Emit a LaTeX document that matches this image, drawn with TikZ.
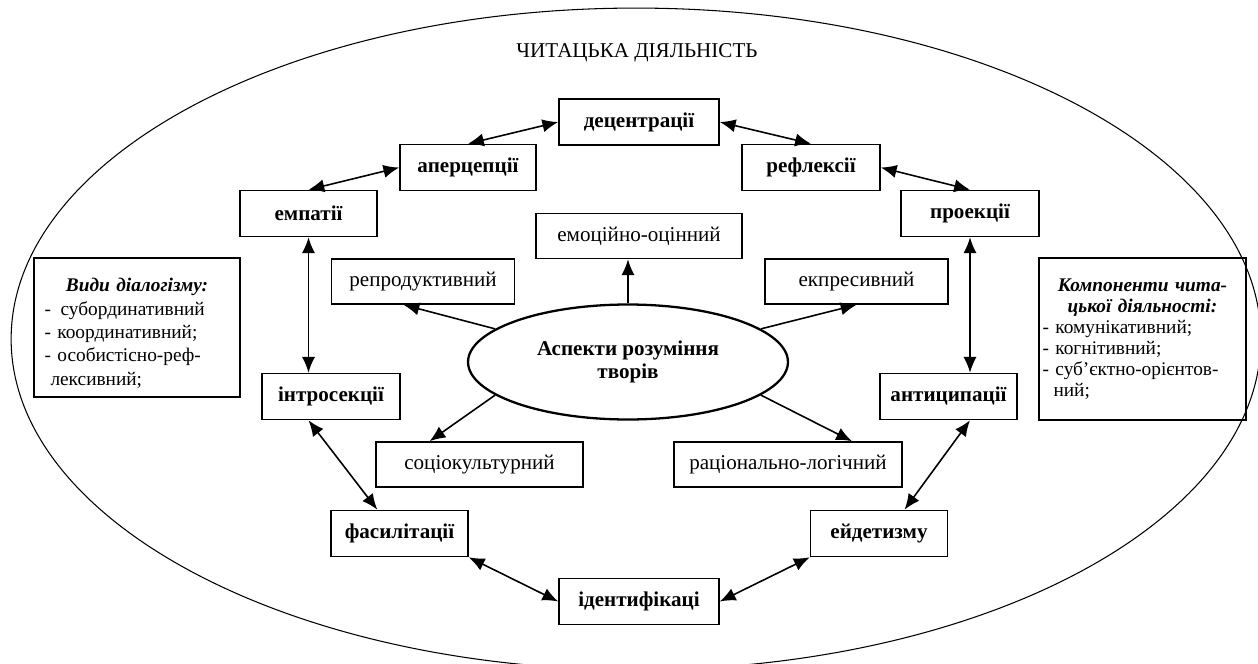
\documentclass[tikz,border=0pt]{standalone}
\usepackage{fontspec}
\setmainfont{Liberation Serif}
\usetikzlibrary{arrows.meta,shapes.geometric}

\begin{document}
\begin{tikzpicture}[x=0.02cm,y=-0.02cm,
  >={Latex[length=9pt,width=7.5pt]},
  every node/.style={font=\fontsize{12}{13}\selectfont},
  bx/.style={draw,line width=0.9pt,inner sep=0pt,minimum height=0.92cm,
    font=\fontsize{12}{13}\selectfont\bfseries},
  aspbox/.style={draw,line width=0.9pt,inner sep=0pt,minimum height=0.9cm},
  con/.style={<->,line width=0.9pt},
  arr/.style={->,line width=0.9pt}]
  \useasboundingbox (0,0) rectangle (1258,663);
  \clip (0,0) rectangle (1258,663);
  \draw[line width=0.6pt] (636,339) ellipse [x radius=12.5cm,y radius=6.62cm];
  \node (title) at (637,53) {ЧИТАЦЬКА ДІЯЛЬНІСТЬ};

  \node[bx,minimum width=3.2cm] (dec) at (639,122) {децентрації};
  \node[bx,minimum width=2.72cm] (ape) at (468,167.5) {аперцепції};
  \node[bx,minimum width=2.76cm] (ref) at (811,167.5) {рефлексії};
  \node[bx,minimum width=2.74cm] (emp) at (308.5,213.5) {емпатії};
  \node[bx,minimum width=2.76cm] (pro) at (970,213.5) {проекції};
  \node[bx,minimum width=2.76cm] (intr) at (331,396.5) {інтросекції};
  \node[bx,minimum width=2.74cm] (ant) at (948.5,396.5) {антиципації};
  \node[bx,minimum width=2.74cm] (fas) at (399.5,533.5) {фасилітації};
  \node[bx,minimum width=2.74cm] (eid) at (879,533.5) {ейдетизму};
  \node[bx,minimum width=3.2cm] (ide) at (639,601.5) {ідентифікаці};

  \node[aspbox,minimum width=4.12cm] (emo) at (639,236) {емоційно-оцінний};
  \node[aspbox,minimum width=3.66cm] (rep) at (423,281.5) {репродуктивний};
  \node[aspbox,minimum width=3.66cm] (eks) at (856.5,281.5) {екпресивний};
  \node[aspbox,minimum width=4.14cm] (soc) at (479.5,464.5) {соціокультурний};
  \node[aspbox,minimum width=4.56cm] (rac) at (788,464.5) {раціонально-логічний};
  \node[ellipse,draw,line width=1.3pt,minimum width=6.4cm,minimum height=2.3cm,
    align=center,font=\fontsize{12}{13}\selectfont\bfseries] (cent) at (628,362)
    {Аспекти розуміння\\творів};

  \node[draw,line width=0.9pt,minimum width=4.12cm,minimum height=2.78cm] (vydy) at (137,327.5) {};
  \node[anchor=north,text width=3.7cm,align=left,font=\fontsize{11}{13.3}\selectfont]
    (vydytxt) at ([yshift=-0.3cm]vydy.north)
    {{\centering\bfseries\itshape Види діалогізму:\par}
     -\ \,субординативний\par
     - координативний;\par
     - особистісно-реф-\par
     \hspace*{0.12cm}лексивний;};
  \node[draw,line width=0.9pt,minimum width=4.14cm,minimum height=3.24cm] (komp) at (1142.5,339) {};
  \node[anchor=north,text width=4cm,align=left,font=\fontsize{11}{12}\selectfont]
    (komptxt) at ([yshift=-0.3cm]komp.north)
    {{\centering\bfseries\itshape Компоненти чита-\\цької діяльності:\par}
     - комунікативний;\par
     - когнітивний;\par
     - суб’єктно-орієнтов-\par
     \hspace*{0.22cm}ний;};

  \draw[con] (emp.north) -- (ape.west);
  \draw[con] (ape.north) -- (dec.west);
  \draw[con] (dec.east) -- (ref.north);
  \draw[con] (ref.east) -- (pro.north);
  \draw[con] (emp.south) -- (emp.south |- intr.north);
  \draw[con] (pro.south) -- (pro.south |- ant.north);
  \draw[con] (emp.south |- intr.south) -- (fas.133);
  \draw[con] (fas.south east) -- (ide.west);
  \draw[con] (ide.east) -- (eid.south west);
  \draw[con] (eid.43) -- (pro.south |- ant.south);

  \draw[arr] (cent.166) -- (rep.230);
  \draw[arr] (cent.north) -- (cent.north |- emo.south);
  \draw[arr] (cent.14) -- (eks.south);
  \draw[arr] (cent.194) -- (soc.155);
  \draw[arr] (cent.346) -- (rac.20);
\end{tikzpicture}
\end{document}
